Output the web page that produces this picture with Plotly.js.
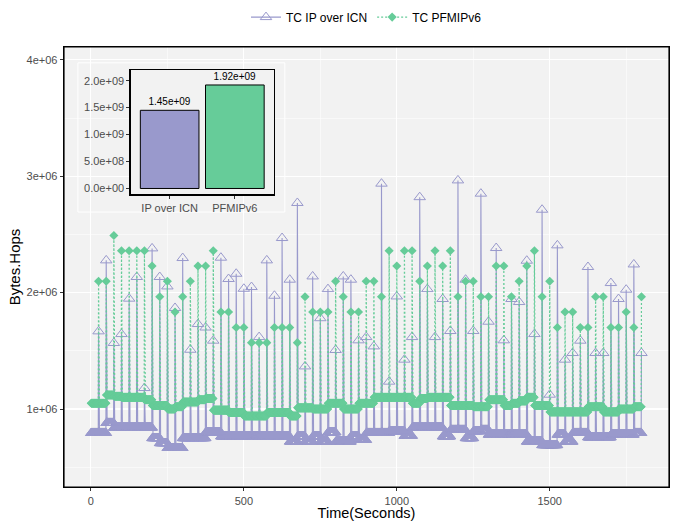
<!DOCTYPE html>
<html><head><meta charset="utf-8">
<script src="https://cdn.plot.ly/plotly-3.0.1.min.js"></script>
<style>html,body{margin:0;padding:0;background:#fff}#chart{width:678px;height:521px}</style>
</head><body><div id="chart"></div>
<script>
// ---- data ----
const seriesNames = ['TC IP over ICN', 'TC PFMIPv6'];
const spikeTimes = [25,50,75,100,125,150,175,200,225,250,275,300,325,350,375,400,425,450,475,500,
  525,550,575,600,625,650,675,700,725,750,775,800,825,850,875,900,925,950,975,1000,
  1025,1050,1075,1100,1125,1150,1175,1200,1225,1250,1275,1300,1325,1350,1375,1400,1425,1450,1475,1500,
  1525,1550,1575,1600,1625,1650,1675,1700,1725,1750,1775,1800];
// peak values (Bytes.Hops) at each spike
const ipSpike = [1.667e6,2.277e6,1.567e6,1.644e6,1.948e6,2.134e6,1.18e6,2.38e6,2.134e6,2.053e6,
  1.868e6,2.297e6,1.509e6,1.73e6,1.70e6,1.587e6,2.30e6,2.117e6,2.162e6,2.033e6,
  2.048e6,1.618e6,2.277e6,1.973e6,2.469e6,2.111e6,2.77e6,1.366e6,2.139e6,1.78e6,
  2.03e6,1.507e6,2.139e6,2.111e6,1.59e6,1.618e6,1.538e6,2.936e6,1.235e6,1.967e6,
  1.424e6,1.618e6,2.82e6,2.03e6,1.618e6,1.945e6,1.67e6,2.964e6,2.111e6,1.67e6,
  2.85e6,1.75e6,2.383e6,1.59e6,1.945e6,1.919e6,2.274e6,1.644e6,2.712e6,1.123e6,
  2.406e6,1.424e6,1.481e6,1.587e6,2.22e6,1.481e6,1.481e6,2.082e6,1.945e6,2.025e6,
  2.242e6,1.481e6];
const pfSpike = [2.097e6,2.097e6,2.49e6,2.36e6,2.36e6,2.36e6,2.36e6,2.229e6,1.965e6,2.097e6,
  1.833e6,1.965e6,2.097e6,2.229e6,2.229e6,2.36e6,1.833e6,1.833e6,1.70e6,1.70e6,
  1.57e6,1.57e6,1.57e6,1.70e6,1.70e6,1.70e6,1.57e6,1.965e6,1.833e6,1.833e6,
  1.833e6,2.097e6,1.965e6,1.833e6,1.833e6,2.097e6,2.097e6,1.965e6,2.36e6,2.229e6,
  2.36e6,2.36e6,2.097e6,2.229e6,2.36e6,2.229e6,2.36e6,1.965e6,2.097e6,2.097e6,
  1.965e6,1.965e6,2.229e6,2.229e6,1.965e6,2.097e6,2.229e6,2.36e6,1.965e6,2.097e6,
  1.70e6,1.833e6,1.833e6,1.70e6,1.70e6,1.965e6,1.965e6,1.70e6,1.70e6,1.833e6,
  1.70e6,1.965e6];
// resting level in each interval before the spike of the same index
const ipBase = [0.794e6,0.794e6,0.88e6,0.84e6,0.84e6,0.84e6,0.84e6,0.84e6,0.75e6,0.707e6,
  0.665e6,0.665e6,0.75e6,0.75e6,0.75e6,0.80e6,0.80e6,0.765e6,0.765e6,0.765e6,
  0.765e6,0.765e6,0.765e6,0.765e6,0.765e6,0.765e6,0.72e6,0.765e6,0.72e6,0.765e6,
  0.72e6,0.80e6,0.72e6,0.72e6,0.765e6,0.735e6,0.794e6,0.794e6,0.794e6,0.81e6,
  0.81e6,0.77e6,0.84e6,0.84e6,0.84e6,0.84e6,0.765e6,0.82e6,0.82e6,0.75e6,
  0.81e6,0.82e6,0.78e6,0.78e6,0.78e6,0.78e6,0.78e6,0.72e6,0.72e6,0.69e6,
  0.69e6,0.78e6,0.72e6,0.794e6,0.794e6,0.757e6,0.757e6,0.757e6,0.78e6,0.78e6,
  0.78e6,0.794e6];
const pfBase = [1.05e6,1.05e6,1.12e6,1.11e6,1.10e6,1.10e6,1.10e6,1.08e6,1.03e6,1.03e6,
  1.00e6,1.02e6,1.06e6,1.06e6,1.08e6,1.09e6,0.99e6,0.99e6,0.97e6,0.97e6,
  0.94e6,0.94e6,0.94e6,0.97e6,0.97e6,0.97e6,0.94e6,1.01e6,1.01e6,1.00e6,
  1.00e6,1.05e6,1.05e6,1.00e6,1.00e6,1.05e6,1.05e6,1.10e6,1.10e6,1.10e6,
  1.10e6,1.10e6,1.05e6,1.09e6,1.10e6,1.10e6,1.10e6,1.03e6,1.03e6,1.03e6,
  1.02e6,1.02e6,1.08e6,1.08e6,1.03e6,1.05e6,1.07e6,1.10e6,1.03e6,1.03e6,
  0.975e6,0.975e6,0.975e6,0.975e6,0.975e6,1.02e6,1.02e6,0.975e6,0.975e6,1.0e6,
  1.0e6,1.02e6];
// inset bar chart
const barCategories = ['IP over ICN', 'PFMIPv6'];
const barValues = [1.45e9, 1.92e9];
const barLabels = ['1.45e+09', '1.92e+09'];
// tick labels
const xTickVals = [0, 500, 1000, 1500];
const xTickText = ['0', '500', '1000', '1500'];
const yTickVals = [1e6, 2e6, 3e6, 4e6];
const yTickText = ['1e+06', '2e+06', '3e+06', '4e+06'];
const insetTickVals = [0, 5e8, 1e9, 1.5e9, 2e9];
const insetTickText = ['0.0e+00', '5.0e+08', '1.0e+09', '1.5e+09', '2.0e+09'];

// ---- build per-second series: resting level between spikes, peak at spike ----
function buildSeries(base, spikes) {
  const x = [], y = [];
  for (let k = 0; k < spikeTimes.length; k++) {
    const t0 = k === 0 ? 0 : spikeTimes[k - 1];
    const t1 = spikeTimes[k];
    for (let t = t0 + 1; t < t1; t++) { x.push(t); y.push(base[k]); }
    x.push(t1); y.push(spikes[k]);
  }
  return {x, y};
}
const ip = buildSeries(ipBase, ipSpike);
const pf = buildSeries(pfBase, pfSpike);

const purple = '#9999CC', green = '#66CC99';
const FONT = 'Liberation Sans, Arial, Helvetica, sans-serif';

const traces = [
  {type:'scatter', mode:'lines+markers', name:seriesNames[0], x:ip.x, y:ip.y,
   line:{color:purple, width:1.1},
   marker:{symbol:'triangle-up-open', size:10, color:purple, line:{width:1, color:purple}}},
  {type:'scatter', mode:'lines+markers', name:seriesNames[1], x:pf.x, y:pf.y,
   line:{color:green, width:1.2, dash:'2px,2px'},
   marker:{symbol:'diamond', size:7, color:green}},
  {type:'bar', x:barCategories, y:barValues, xaxis:'x2', yaxis:'y2', width:0.9,
   marker:{color:[purple, green], line:{color:'#000', width:1}},
   text:barLabels, textposition:'outside', cliponaxis:false,
   textfont:{size:10, color:'#000', family:FONT}, showlegend:false, hoverinfo:'skip'}
];

const layout = {
  width:678, height:521,
  margin:{l:64, r:9, t:47, b:34, autoexpand:false},
  paper_bgcolor:'#FFFFFF', plot_bgcolor:'#F2F2F2',
  font:{family:FONT, color:'#4D4D4D', size:11},
  showlegend:true,
  legend:{orientation:'h', x:0.5, xanchor:'center', y:1.068, yanchor:'middle',
          font:{size:12, color:'#000'}, bgcolor:'rgba(0,0,0,0)', traceorder:'normal',
          itemwidth:30},
  xaxis:{range:[-88, 1890], tickmode:'array', tickvals:xTickVals, ticktext:xTickText,
         ticks:'outside', ticklen:3, tickcolor:'#333', tickfont:{size:11, color:'#4D4D4D'},
         showline:true, mirror:true, linecolor:'#000', linewidth:1.3,
         showgrid:true, gridcolor:'#FFFFFF', gridwidth:1.1, zeroline:false,
         minor:{tick0:0, dtick:250, showgrid:true, gridcolor:'#FFFFFF', gridwidth:0.5, ticks:''},
         title:{text:'Time(Seconds)', font:{size:14.5, color:'#000'}, standoff:2}},
  yaxis:{range:[0.33e6, 4.11e6], tickmode:'array', tickvals:yTickVals, ticktext:yTickText,
         ticks:'outside', ticklen:3, tickcolor:'#333', tickfont:{size:11, color:'#4D4D4D'},
         showline:true, mirror:true, linecolor:'#000', linewidth:1.3,
         showgrid:true, gridcolor:'#FFFFFF', gridwidth:1.1, zeroline:false,
         minor:{tick0:0, dtick:5e5, showgrid:true, gridcolor:'#FFFFFF', gridwidth:0.5, ticks:''},
         title:{text:'Bytes.Hops', font:{size:15, color:'#000'}, standoff:2}},
  xaxis2:{domain:[0.110, 0.347], anchor:'y2', type:'category', range:[-0.6, 1.6],
          ticks:'outside', ticklen:3, tickcolor:'#333', tickfont:{size:11, color:'#4D4D4D'},
          showline:true, mirror:true, linecolor:'#000', linewidth:1.2,
          showgrid:false, zeroline:false},
  yaxis2:{domain:[0.665, 0.948], anchor:'x2', range:[-0.11e9, 2.2e9],
          tickmode:'array', tickvals:insetTickVals, ticktext:insetTickText,
          ticks:'outside', ticklen:3, tickcolor:'#333', tickfont:{size:11, color:'#4D4D4D'},
          showline:true, mirror:true, linecolor:'#000', linewidth:1.2,
          showgrid:false, zeroline:false},
  shapes:[{type:'rect', xref:'paper', yref:'paper', x0:0.023, x1:0.365, y0:0.625, y1:0.964,
           fillcolor:'#F2F2F2', line:{color:'#FFFFFF', width:1}, layer:'between'},
          {type:'rect', xref:'paper', yref:'paper', x0:0, x1:1, y0:0, y1:1,
           fillcolor:'rgba(0,0,0,0)', line:{color:'#000', width:1.2}, layer:'above'}]
};

Plotly.newPlot('chart', traces, layout, {displayModeBar:false, staticPlot:true});
</script>
</body></html>
